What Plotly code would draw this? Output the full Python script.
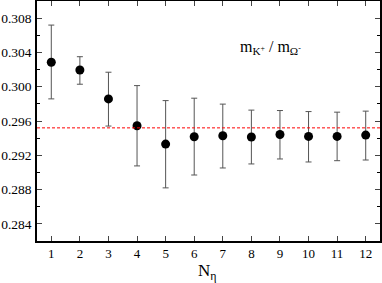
import plotly.graph_objects as go

x_vals = [1, 2, 3, 4, 5, 6, 7, 8, 9, 10, 11, 12]
y_vals = [0.30285, 0.30195, 0.29858, 0.29544, 0.29331, 0.29416, 0.29428, 0.29413, 0.29443, 0.29420, 0.29420, 0.29436]
y_upper = [0.30719, 0.30350, 0.30169, 0.30013, 0.29838, 0.29866, 0.29797, 0.29727, 0.29722, 0.29710, 0.29703, 0.29715]
y_lower = [0.29858, 0.30029, 0.29541, 0.29076, 0.28820, 0.28970, 0.29052, 0.29099, 0.29157, 0.29122, 0.29137, 0.29145]
ref_line = 0.2952
y_ticks = [0.284, 0.288, 0.292, 0.296, 0.300, 0.304, 0.308]

err_plus = [u - y for u, y in zip(y_upper, y_vals)]
err_minus = [y - l for y, l in zip(y_vals, y_lower)]

font_family = "Liberation Serif, Times New Roman, serif"

fig = go.Figure()
fig.add_trace(go.Scatter(
    x=x_vals, y=y_vals, mode="markers",
    marker=dict(color="black", size=9),
    error_y=dict(type="data", symmetric=False, array=err_plus, arrayminus=err_minus,
                 color="#555555", thickness=1, width=3),
    showlegend=False,
))
fig.add_shape(type="line", xref="paper", x0=0, x1=1, yref="y", y0=ref_line, y1=ref_line,
              line=dict(color="red", width=1, dash="3px,2px"))
fig.add_annotation(x=8.68, y=0.30455, xref="x", yref="y",
                   text="m<sub>K<sup>+</sup></sub> / m<sub>Ω<sup>-</sup></sub>",
                   showarrow=False, font=dict(family=font_family, size=16, color="black"))
fig.add_annotation(x=6.45, y=-0.075, xref="x", yref="paper", yanchor="top",
                   text="N<sub>η</sub>",
                   showarrow=False, font=dict(family=font_family, size=17, color="black"))

fig.update_layout(
    width=382, height=283,
    margin=dict(l=37, r=2, t=1, b=42),
    paper_bgcolor="white", plot_bgcolor="white",
    font=dict(family=font_family, size=13, color="black"),
    xaxis=dict(range=[0.5, 12.5], tickvals=x_vals, ticks="inside", ticklen=5,
               showline=True, linecolor="black", linewidth=1.5, mirror="ticks",
               showgrid=False, zeroline=False, automargin=False,
               tickfont=dict(size=13)),
    yaxis=dict(range=[0.282, 0.310], tickvals=y_ticks, tickformat=".3f", ticks="inside", ticklen=5,
               showline=True, linecolor="black", linewidth=1.5, mirror="ticks",
               showgrid=False, zeroline=False, automargin=False,
               tickfont=dict(size=13.5), ticklabelstandoff=1,
               minor=dict(ticks="inside", ticklen=3, dtick=0.002, tick0=0.282, tickcolor="black")),
)
fig.write_html("out.html", config={"displayModeBar": False},
               post_script="document.body.style.margin='0';document.body.style.overflow='hidden';")
